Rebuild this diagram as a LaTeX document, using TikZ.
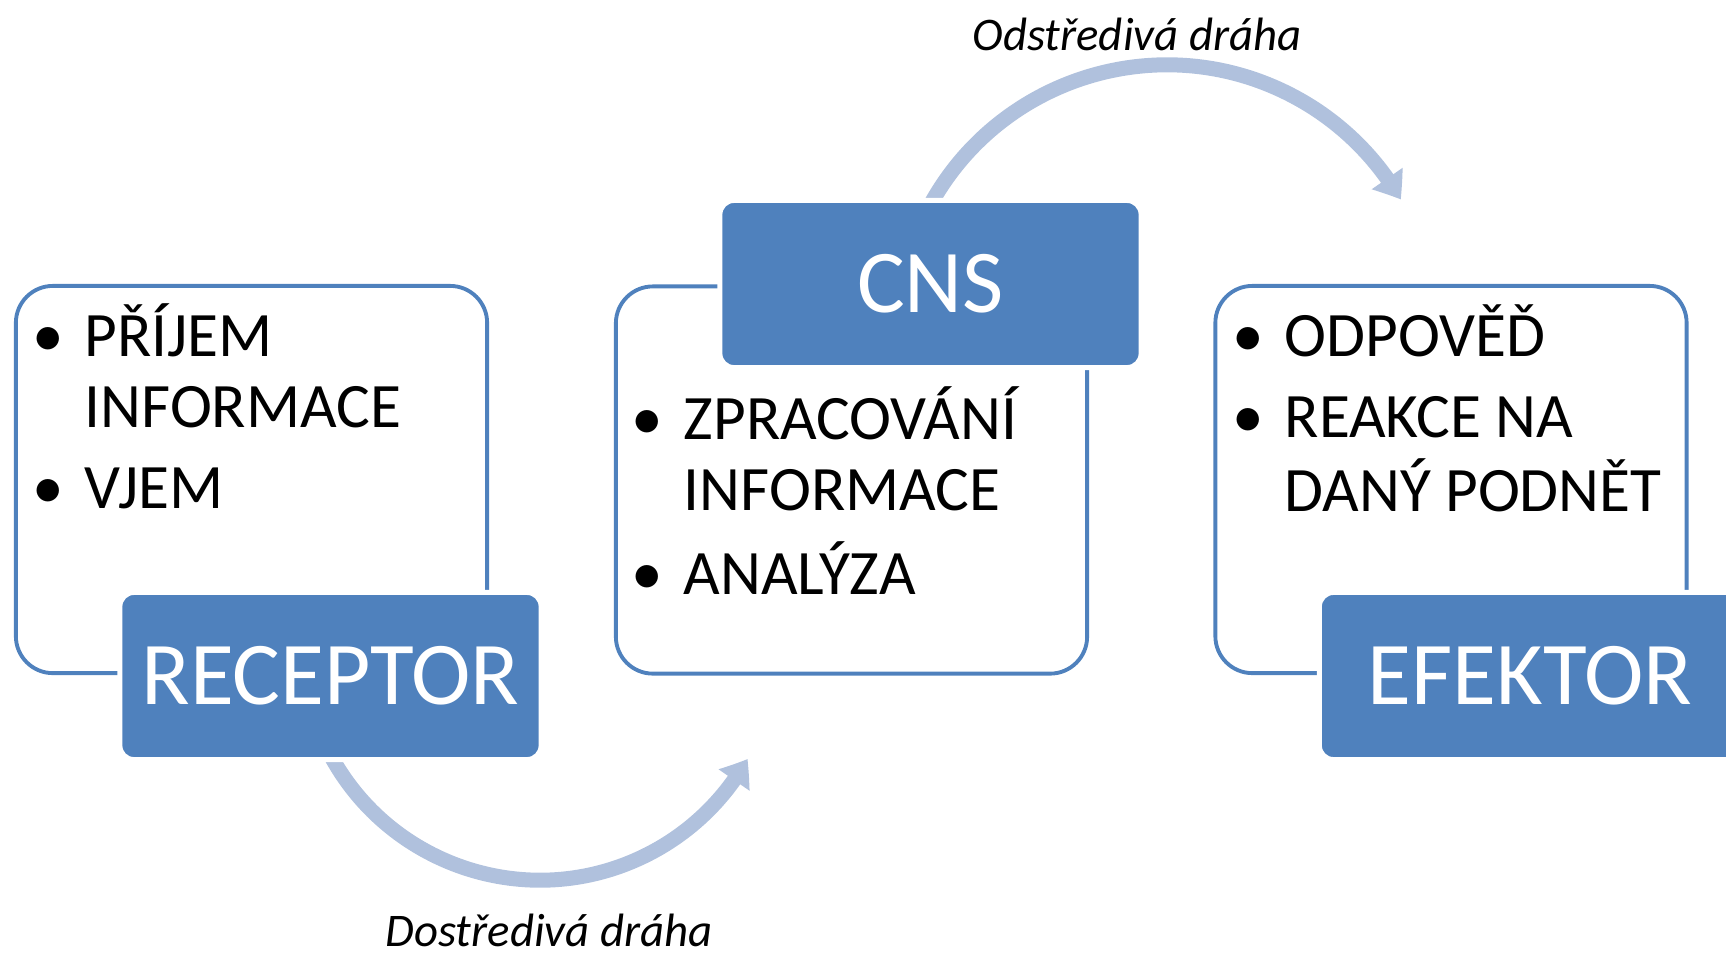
\documentclass[tikz,border=0pt]{standalone}
\usepackage{fontspec}
\setmainfont{Carlito}
\usetikzlibrary{arrows.meta,bending}
\definecolor{boxblue}{HTML}{4F81BD}
\definecolor{arrowblue}{HTML}{B0C1DD}
\tikzset{
    outerbox/.style={draw=boxblue, line width=1.1pt, rounded corners=0.37cm, minimum width=4.71cm, minimum height=3.87cm, inner sep=0pt},
    headbox/.style={fill=boxblue, draw=white, line width=1.42pt, rounded corners=0.14cm, minimum width=4.21cm, minimum height=1.67cm, text=white, font=\fontsize{25.5}{30}\selectfont},
    itemtext/.style={anchor=base west, inner sep=0pt, font=\fontsize{18}{20.2}\selectfont},
    route/.style={arrowblue, line width=0.15cm, -{Triangle[width=0.36cm,length=0.25cm,bend]}},
    pathlabel/.style={anchor=base, inner sep=0pt, font=\fontsize{13.3}{15}\selectfont\itshape}
}
\newcommand{\bul}{\llap{\makebox[0.72cm]{\textbullet}}}
\begin{document}
\begin{tikzpicture}[x=0.01cm, y=-0.01cm]
    \useasboundingbox (0,0) rectangle (1726,959);
    \clip (0,0) rectangle (1726,959);
    % arcs between the stages
    \coordinate (lowhub) at (540,642);
    \coordinate (highhub) at (1167,335);
    \draw [route] (lowhub) ++(205:2.38cm) arc [start angle=205, end angle=330.6, radius=2.38cm];
    \draw [route] (highhub) ++(153:2.70cm) arc [start angle=153, end angle=30.1, radius=2.70cm];
    % outlined boxes
    \node [outerbox] (recbox) at (251.5,479.5) {};
    \node [outerbox] (cnsbox) at (851.5,480) {};
    \node [outerbox] (efbox) at (1451,479.5) {};
    \node [itemtext] (recitems) at (84,356) {\begin{tabular}[t]{@{}l@{}}\bul PŘÍJEM\\ INFORMACE\\[0.1cm] \bul VJEM\end{tabular}};
    \node [itemtext] (cnsitems) at (683,439) {\begin{tabular}[t]{@{}l@{}}\bul ZPRACOVÁNÍ\\ INFORMACE\\[0.1cm] \bul ANALÝZA\end{tabular}};
    \node [itemtext] (efitems) at (1284,356) {\begin{tabular}[t]{@{}l@{}}\bul ODPOVĚĎ\\[0.1cm] \bul REAKCE NA\\ DANÝ PODNĚT\end{tabular}};
    % filled heads
    \node [headbox] (receptor) at (330.5,676) {RECEPTOR};
    \node [headbox] (cns) at (930.5,284) {CNS};
    \node [headbox] (efektor) at (1530,676) {EFEKTOR};
    % labels
    \node [pathlabel] (upperlabel) at (1137,50) {Odstředivá dráha};
    \node [pathlabel] (lowerlabel) at (549,946) {Dostředivá dráha};
\end{tikzpicture}
\end{document}
